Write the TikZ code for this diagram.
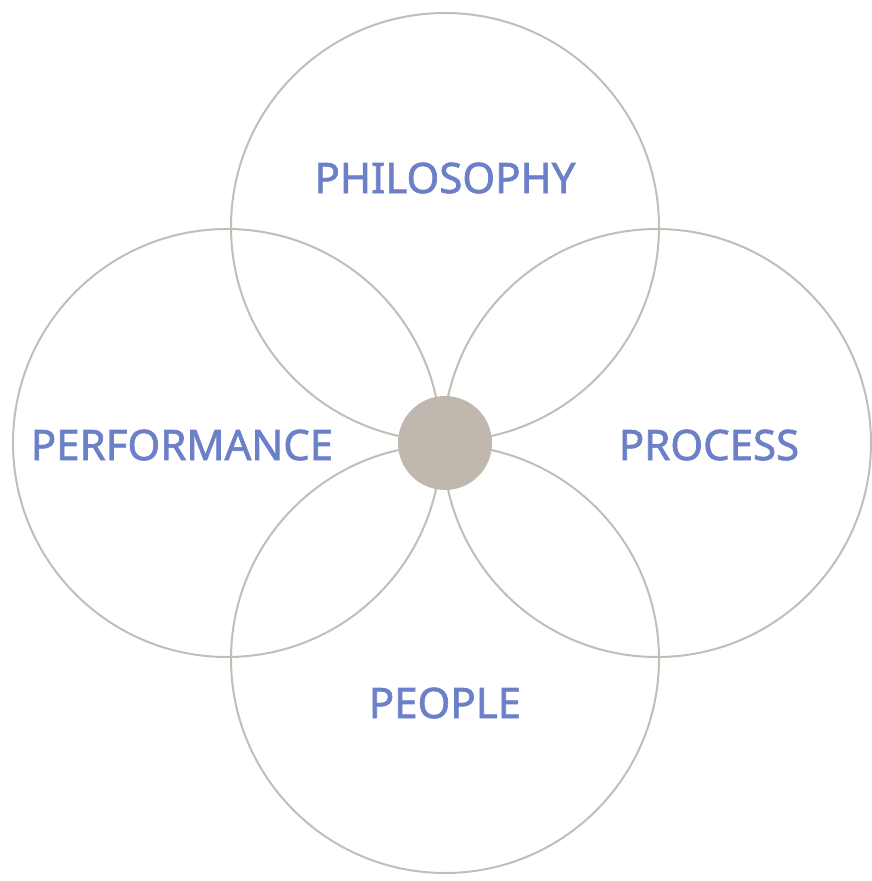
\documentclass[tikz,border=0pt]{standalone}
\usepackage{fontspec}
\setmainfont{Noto Sans}
\newfontfamily\lblfont[FakeBold=1.6]{Noto Sans}
\definecolor{ring}{RGB}{196,189,181}
\definecolor{hub}{RGB}{192,184,175}
\definecolor{lbl}{RGB}{108,128,200}
\begin{document}
\begin{tikzpicture}[x=1pt,y=-1pt,
  petal/.style={draw=ring,line width=2pt,circle,minimum size=428pt,inner sep=0pt},
  word/.style={text=lbl,font=\lblfont\fontsize{42}{42}\selectfont,inner sep=0pt}]
\useasboundingbox (0,0) rectangle (872,881);
\node[petal] (top) at (445,227) {};
\node[petal] (left) at (227,443) {};
\node[petal] (right) at (657,443) {};
\node[petal] (bottom) at (445,659) {};
\node[circle,fill=hub,minimum size=94pt,inner sep=0pt] (hubc) at (445,443) {};
\node[word] (philo) at (445,178) {PHILOSOPHY};
\node[word] (perf) at (182,445) {PERFORMANCE};
\node[word] (proc) at (709,445) {PROCESS};
\node[word] (peop) at (445,703) {PEOPLE};
\end{tikzpicture}
\end{document}
